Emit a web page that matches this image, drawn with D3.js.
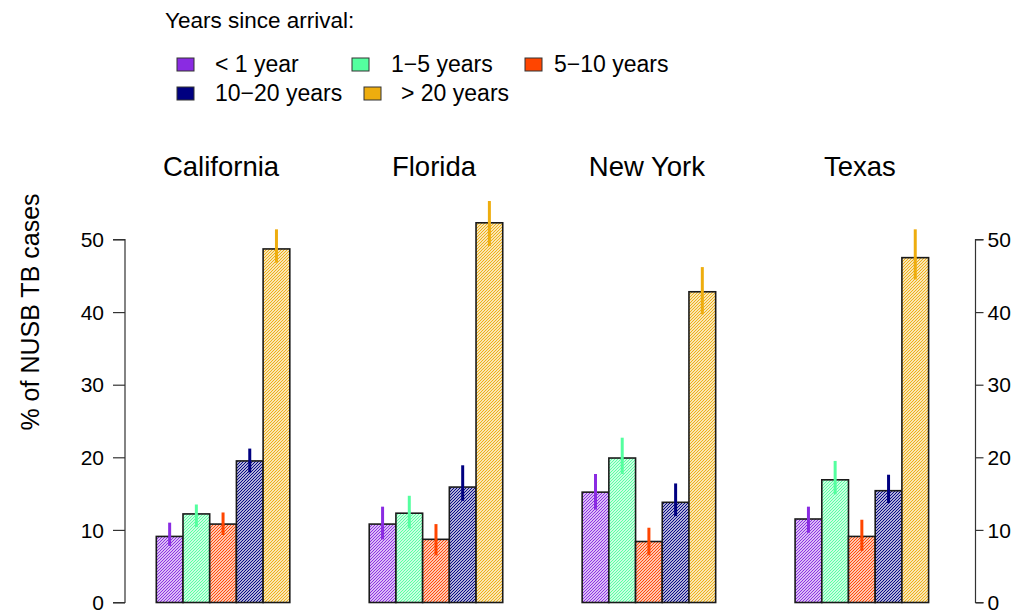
<!DOCTYPE html>
<html>
<head>
<meta charset="utf-8">
<script src="https://cdn.jsdelivr.net/npm/d3@7"></script>
<style>
  html, body { margin: 0; padding: 0; background: #fff; }
  svg { display: block; font-family: "Liberation Sans", Arial, Helvetica, sans-serif; }
</style>
</head>
<body>
<svg id="chart" width="1025" height="611"></svg>
<script>
// Share of non-US-born TB cases by years since arrival, per state
const states = ["California", "Florida", "New York", "Texas"];
const groups = ["< 1 year", "1\u22125 years", "5\u221210 years", "10\u221220 years", "> 20 years"];
const colors = ["#8A2BE2", "#54FF9F", "#FF4500", "#000080", "#EEAD0E"];

// point estimates (%), one array per arrival group, ordered as `states`
const lt1 = [9.1, 10.8, 15.2, 11.5];
const y1to5 = [12.2, 12.3, 19.9, 16.9];
const y5to10 = [10.8, 8.7, 8.4, 9.1];
const y10to20 = [19.5, 15.9, 13.8, 15.4];
const gt20 = [48.7, 52.3, 42.8, 47.5];

// interval bounds (%)
const lt1Lo = [7.8, 8.7, 12.8, 9.6];
const lt1Hi = [11.0, 13.2, 17.7, 13.2];
const y1to5Lo = [10.4, 10.2, 17.7, 14.9];
const y1to5Hi = [13.5, 14.7, 22.7, 19.5];
const y5to10Lo = [9.3, 6.5, 6.5, 7.1];
const y5to10Hi = [12.4, 10.8, 10.3, 11.4];
const y10to20Lo = [17.9, 14.0, 11.9, 13.7];
const y10to20Hi = [21.2, 18.9, 16.4, 17.6];
const gt20Lo = [46.8, 49.1, 39.7, 44.5];
const gt20Hi = [51.4, 55.3, 46.2, 51.4];

const yTicks = [0, 10, 20, 30, 40, 50];

const values = [lt1, y1to5, y5to10, y10to20, gt20];
const lows = [lt1Lo, y1to5Lo, y5to10Lo, y10to20Lo, gt20Lo];
const highs = [lt1Hi, y1to5Hi, y5to10Hi, y10to20Hi, gt20Hi];

const rows = [];
states.forEach((s, i) => {
  groups.forEach((g, j) => {
    rows.push({ state: s, group: g, gi: j, value: values[j][i], lo: lows[j][i], hi: highs[j][i] });
  });
});

const svg = d3.select("#chart");

const y = d3.scaleLinear().domain([0, 50]).range([602.5, 239.5]);
const x0 = d3.scaleBand().domain(states).range([156.3, 928.6]).paddingInner(0.373).paddingOuter(0);
const x1 = d3.scaleBand().domain(groups).range([0, x0.bandwidth()]).padding(0);
const color = d3.scaleOrdinal().domain(groups).range(colors);

// diagonal hatching, one pattern per colour
const defs = svg.append("defs");
groups.forEach((g, j) => {
  const p = 3;
  const pat = defs.append("pattern")
    .attr("id", "hatch" + j)
    .attr("patternUnits", "userSpaceOnUse")
    .attr("width", p).attr("height", p);
  pat.append("rect").attr("width", p).attr("height", p).attr("fill", "#fff");
  pat.append("path")
    .attr("d", `M0,${p} L${p},0 M${-p / 2},${p / 2} L${p / 2},${-p / 2} M${p / 2},${p * 1.5} L${p * 1.5},${p / 2}`)
    .attr("stroke", colors[j])
    .attr("stroke-width", 1.2)
    .attr("fill", "none");
});

// bars
svg.append("g").selectAll("rect")
  .data(rows)
  .join("rect")
  .attr("x", d => x0(d.state) + x1(d.group))
  .attr("y", d => y(d.value))
  .attr("width", x1.bandwidth())
  .attr("height", d => y(0) - y(d.value))
  .attr("fill", d => `url(#hatch${d.gi})`)
  .attr("stroke", "#1a1a1a")
  .attr("stroke-width", 1.6);

// interval lines
svg.append("g").selectAll("line")
  .data(rows)
  .join("line")
  .attr("x1", d => x0(d.state) + x1(d.group) + x1.bandwidth() / 2)
  .attr("x2", d => x0(d.state) + x1(d.group) + x1.bandwidth() / 2)
  .attr("y1", d => y(d.lo))
  .attr("y2", d => y(d.hi))
  .attr("stroke", d => color(d.group))
  .attr("stroke-width", 3);

// state titles
svg.append("g").selectAll("text")
  .data(states)
  .join("text")
  .attr("x", d => x0(d) + x0.bandwidth() / 2 - 2)
  .attr("y", 176)
  .attr("text-anchor", "middle")
  .attr("font-size", 27.5)
  .attr("fill", "#000")
  .text(d => d);

// left axis
const axL = svg.append("g")
  .attr("transform", "translate(125,0)")
  .call(d3.axisLeft(y).tickValues(yTicks).tickSize(12).tickPadding(9).tickFormat(d3.format("d")));
axL.select(".domain").attr("stroke", "#333").attr("stroke-width", 1.2).attr("d", `M-12,${y(0)}H0V${y(50)}H-12`);
axL.selectAll(".tick line").attr("stroke", "#333").attr("stroke-width", 1.2);
axL.selectAll(".tick text").attr("font-size", 21).attr("fill", "#000").attr("font-family", "Liberation Sans, Arial, sans-serif").attr("dy", "0.34em");

// right axis
const axR = svg.append("g")
  .attr("transform", "translate(975.5,0)")
  .call(d3.axisRight(y).tickValues(yTicks).tickSize(8).tickPadding(4).tickFormat(d3.format("d")));
axR.select(".domain").attr("stroke", "#333").attr("stroke-width", 1.2).attr("d", `M8,${y(0)}H0V${y(50)}H8`);
axR.selectAll(".tick line").attr("stroke", "#333").attr("stroke-width", 1.2);
axR.selectAll(".tick text").attr("font-size", 21).attr("fill", "#000").attr("font-family", "Liberation Sans, Arial, sans-serif").attr("dy", "0.34em");

// y axis title
svg.append("text")
  .attr("transform", "translate(39,312) rotate(-90)")
  .attr("text-anchor", "middle")
  .attr("font-size", 25)
  .attr("fill", "#000")
  .text("% of NUSB TB cases");

// legend
const legend = svg.append("g");
legend.append("text")
  .attr("x", 165).attr("y", 28)
  .attr("font-size", 22.5)
  .attr("fill", "#000")
  .text("Years since arrival:");

const legendSlots = [
  { bx: 177, tx: 215, row: 0 },
  { bx: 352, tx: 391, row: 0 },
  { bx: 525, tx: 554, row: 0 },
  { bx: 177, tx: 215, row: 1 },
  { bx: 364, tx: 401, row: 1 }
];
const item = legend.selectAll("g.item")
  .data(groups)
  .join("g")
  .attr("class", "item")
  .attr("transform", (d, i) => `translate(0,${legendSlots[i].row * 29})`);
item.append("rect")
  .attr("x", (d, i) => legendSlots[i].bx)
  .attr("y", 58)
  .attr("width", 17)
  .attr("height", 13)
  .attr("fill", d => color(d))
  .attr("stroke", "#333")
  .attr("stroke-width", 1);
item.append("text")
  .attr("x", (d, i) => legendSlots[i].tx)
  .attr("y", 72)
  .attr("font-size", 23)
  .attr("fill", "#000")
  .text(d => d);
</script>
</body>
</html>
